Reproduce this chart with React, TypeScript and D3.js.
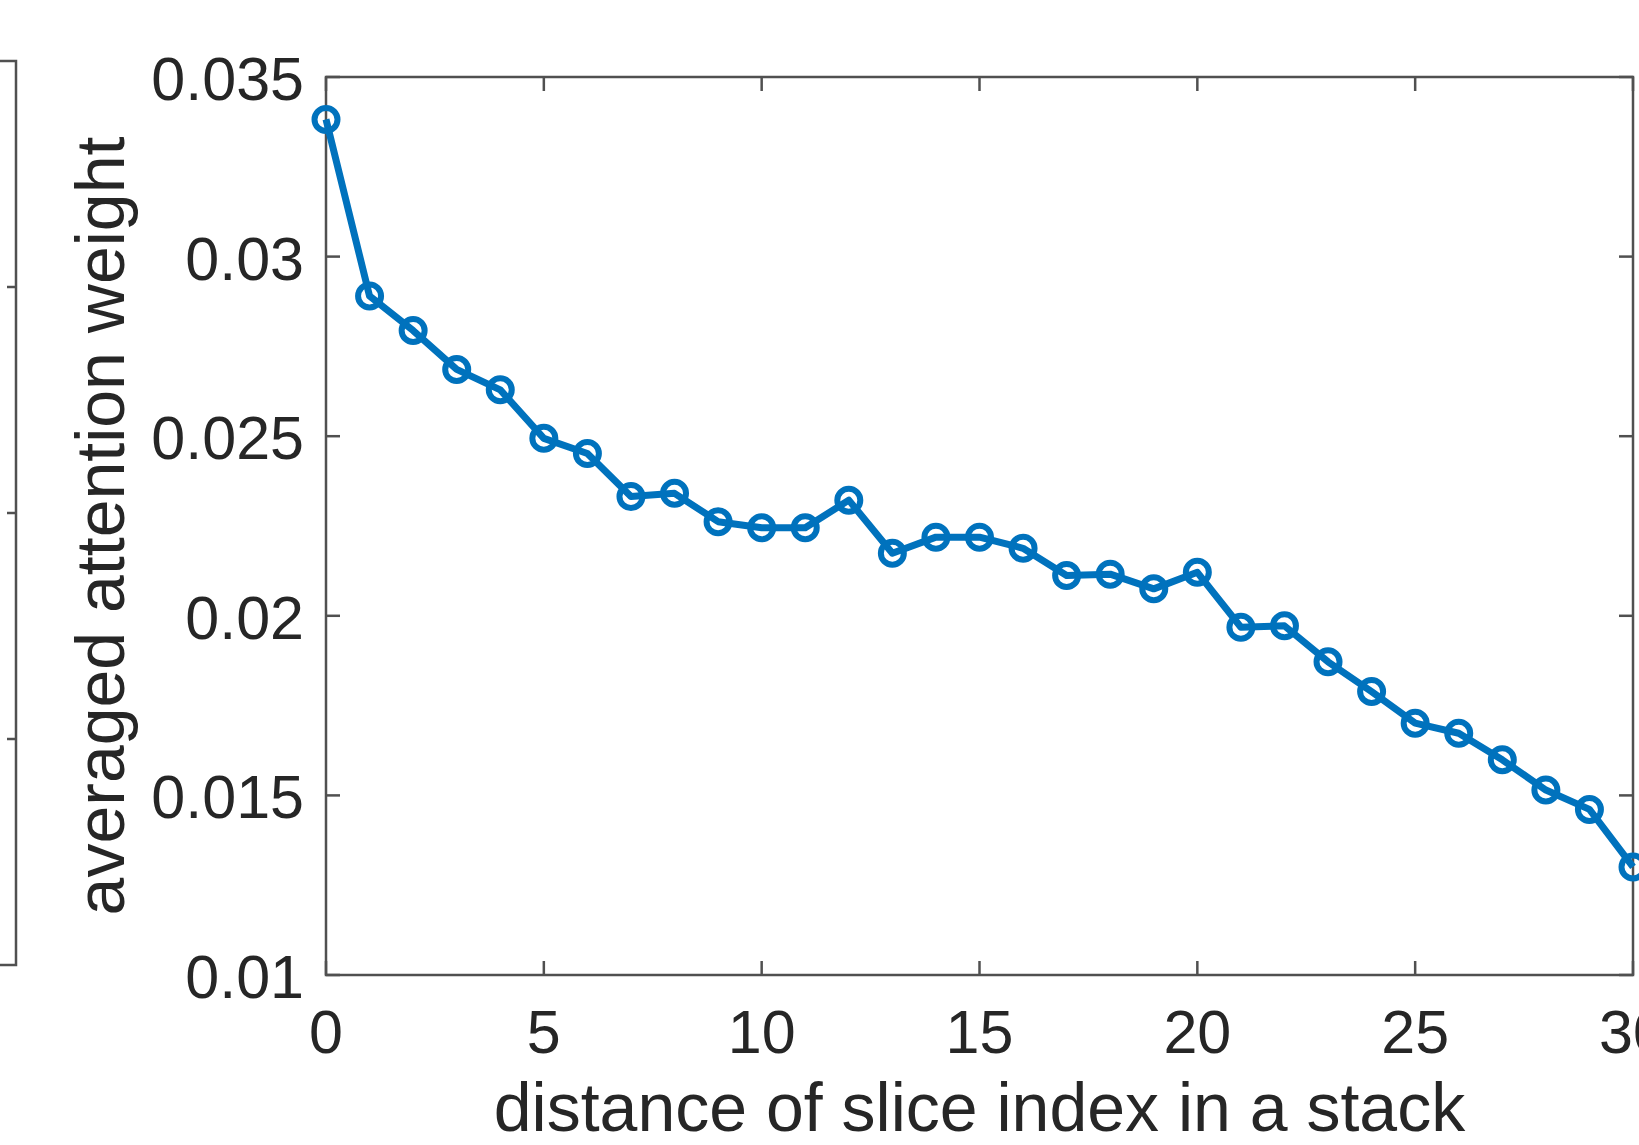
import React from 'react'
import * as d3 from 'd3'

const W = 1639
const H = 1145

// slice distance (x) and averaged attention weight (y)
const distances = d3.range(0, 31)
const weights = [
  0.03382, 0.0289, 0.02794, 0.02686, 0.02629, 0.02494, 0.02452, 0.02332,
  0.02341, 0.02262, 0.02245, 0.02245, 0.02322, 0.02174, 0.02219, 0.02219,
  0.02188, 0.02112, 0.02116, 0.02075, 0.02121, 0.01968, 0.01972, 0.01872,
  0.01789, 0.01701, 0.01673, 0.01599, 0.01515, 0.01461, 0.01301,
]

const xTicks = [0, 5, 10, 15, 20, 25, 30]
const yTicks = [0.01, 0.015, 0.02, 0.025, 0.03, 0.035]
const xLabel = 'distance of slice index in a stack'
const yLabel = 'averaged attention weight'

// right edge of the neighbouring panel, only its ticks are visible
const sideTicks = [1, 2, 3]

const plot = { left: 326, right: 1633, top: 77, bottom: 975 }
const font = '"Liberation Sans", Arial, Helvetica, sans-serif'
const axisColor = '#505050'
const textColor = '#262626'
const blue = '#0072BD'
const tickLen = 14

export default function App() {
  const x = d3.scaleLinear().domain([0, 30]).range([plot.left, plot.right])
  const y = d3.scaleLinear().domain([0.01, 0.035]).range([plot.bottom, plot.top])
  const side = d3.scaleLinear().domain([0, 4]).range([965, 61])

  const line = d3.line<number>()
    .x((d, i) => x(distances[i]))
    .y(d => y(d))

  const fmt = d3.format('~g')

  return (
    <svg width={W} height={H} style={{ position: 'absolute', left: 0, top: 0, background: '#fff' }}>
      <rect width={W} height={H} fill="#fff" />

      {/* partial neighbouring axes on the left */}
      <g stroke={axisColor} strokeWidth={2.5} fill="none">
        <path d={`M0,${side(4)}H16V${side(0)}H0`} />
        {sideTicks.map(t => (
          <line key={t} x1={16} x2={7} y1={side(t)} y2={side(t)} />
        ))}
      </g>

      {/* box and ticks */}
      <g stroke={axisColor} strokeWidth={2.5} fill="none">
        <rect x={plot.left} y={plot.top} width={plot.right - plot.left} height={plot.bottom - plot.top} />
        {xTicks.map(t => (
          <g key={'x' + t}>
            <line x1={x(t)} x2={x(t)} y1={plot.bottom} y2={plot.bottom - tickLen} />
            <line x1={x(t)} x2={x(t)} y1={plot.top} y2={plot.top + tickLen} />
          </g>
        ))}
        {yTicks.map(t => (
          <g key={'y' + t}>
            <line x1={plot.left} x2={plot.left + tickLen} y1={y(t)} y2={y(t)} />
            <line x1={plot.right} x2={plot.right - tickLen} y1={y(t)} y2={y(t)} />
          </g>
        ))}
      </g>

      <g fontFamily={font} fill={textColor} fontSize={61}>
        {xTicks.map(t => (
          <text key={'xl' + t} x={x(t)} y={1053} textAnchor="middle">{fmt(t)}</text>
        ))}
        {yTicks.map(t => (
          <text key={'yl' + t} x={304} y={y(t) + 23} textAnchor="end">{fmt(t)}</text>
        ))}
      </g>

      <text x={(plot.left + plot.right) / 2} y={1131} textAnchor="middle"
        fontFamily={font} fontSize={68} fill={textColor}>{xLabel}</text>
      <text transform={`translate(124,${(plot.top + plot.bottom) / 2}) rotate(-90)`} textAnchor="middle"
        fontFamily={font} fontSize={68} fill={textColor}>{yLabel}</text>

      <path d={line(weights) || ''} fill="none" stroke={blue} strokeWidth={7} strokeLinejoin="round" />
      <g fill="none" stroke={blue} strokeWidth={6}>
        {weights.map((w, i) => (
          <circle key={i} cx={x(distances[i])} cy={y(w)} r={11.5} />
        ))}
      </g>
    </svg>
  )
}
